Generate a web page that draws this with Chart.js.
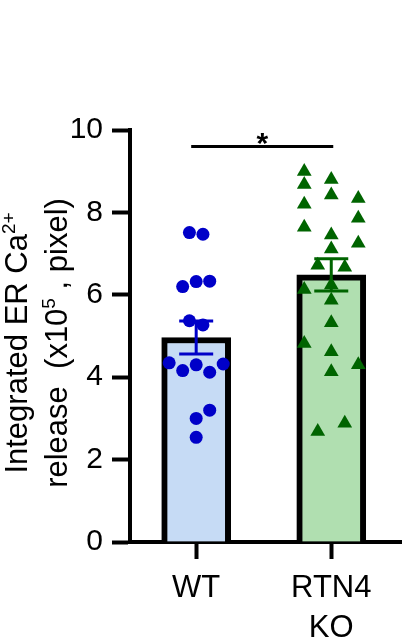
<!DOCTYPE html>
<html>
<head>
<meta charset="utf-8">
<script src="https://cdn.jsdelivr.net/npm/chart.js@4"></script>
<style>
  html, body { margin: 0; padding: 0; background: #fff; }
  #wrap { width: 410px; height: 641px; }
</style>
</head>
<body>
<div id="wrap"><canvas id="chart"></canvas></div>
<script>
// groups on the x axis (2nd label is two lines)
let groups = ['WT', ['RTN4', 'KO']];

// individual values, x10^5 pixel
let wtValues = [7.51, 7.47, 6.20, 6.32, 6.33, 5.37, 5.27, 4.35, 4.16, 4.30, 4.12, 4.32, 3.00, 3.20, 2.54];
let wtCols   = [-0.5, 0.5, -1, 0, 1, -0.5, 0.5, -2, -1, 0, 1, 2, 0, 1, 0];

let koValues = [8.99, 8.68, 8.80, 8.42, 8.20, 8.34, 7.86, 7.64, 7.45, 7.25, 7.11, 6.72, 6.67,
                6.13, 6.24, 5.87, 5.32, 4.82, 4.62, 4.13, 4.30, 2.68, 2.88];
let koCols   = [-2, -2, 0, 0, -2, 2, 2, -2, 0, 2, 0, -1, 1, -2, 0, 0, 0, -2, 0, 0, 2, -1, 1];

let yMin = 0, yMax = 10, yStep = 2;
let sigText = '*';
let sigY = 9.6;

let yTitle = [
  [['Integrated ER Ca', false], ['2+', true]],
  [['release  (x10', false], ['5', true], [' , pixel)', false]]
];

let font = '"Liberation Sans", Arial, sans-serif';
let blue = '#0000c8', green = '#006400';

mean = arr => arr.reduce((a, b) => a + b, 0) / arr.length;
sem = arr => {
  let m = mean(arr);
  let v = arr.reduce((a, b) => a + (b - m) * (b - m), 0) / (arr.length - 1);
  return Math.sqrt(v / arr.length);
}

let means = [mean(wtValues), mean(koValues)];
let sems = [sem(wtValues), sem(koValues)];
let errColors = [blue, green];

let jitter = 0.1;
let wtPoints = wtValues.map((v, i) => ({ x: 1 + wtCols[i] * jitter, y: v }));
let koPoints = koValues.map((v, i) => ({ x: 2 + koCols[i] * jitter, y: v }));

let extras = {
  id: 'extras',
  afterDatasetsDraw(chart) {
    let { ctx, scales: { x, y } } = chart;
    ctx.save();
    // error bars
    ctx.lineWidth = 3;
    means.forEach((m, i) => {
      let px = x.getPixelForValue(i + 1);
      let top = y.getPixelForValue(m + sems[i]);
      let bot = y.getPixelForValue(m - sems[i]);
      ctx.strokeStyle = errColors[i];
      ctx.beginPath();
      ctx.moveTo(px, top); ctx.lineTo(px, bot);
      ctx.moveTo(px - 17, top); ctx.lineTo(px + 17, top);
      ctx.moveTo(px - 17, bot); ctx.lineTo(px + 17, bot);
      ctx.stroke();
    });
    // significance bracket
    let sy = y.getPixelForValue(sigY);
    let x1 = x.getPixelForValue(1) - 5, x2 = x.getPixelForValue(2) + 2;
    ctx.strokeStyle = '#000';
    ctx.beginPath();
    ctx.moveTo(x1, sy); ctx.lineTo(x2, sy);
    ctx.stroke();
    ctx.fillStyle = '#000';
    ctx.font = 'bold 30px ' + font;
    ctx.textAlign = 'center';
    ctx.textBaseline = 'alphabetic';
    ctx.fillText(sigText, (x1 + x2) / 2, sy + 7);
    ctx.restore();
  },
  afterDraw(chart) {
    let { ctx } = chart;
    let baselines = [27, 67];
    let cy = 343;
    ctx.save();
    ctx.fillStyle = '#000';
    ctx.textBaseline = 'alphabetic';
    ctx.textAlign = 'left';
    yTitle.forEach((line, li) => {
      let widths = line.map(([t, sup]) => {
        ctx.font = (sup ? 19 : 31) + 'px ' + font;
        return ctx.measureText(t).width;
      });
      let total = widths.reduce((a, b) => a + b, 0);
      ctx.save();
      ctx.translate(baselines[li], cy);
      ctx.rotate(-Math.PI / 2);
      let pos = -total / 2;
      line.forEach(([t, sup], k) => {
        ctx.font = (sup ? 19 : 31) + 'px ' + font;
        ctx.fillText(t, pos, sup ? -12 : 0);
        pos += widths[k];
      });
      ctx.restore();
    });
    ctx.restore();
  }
};

let canvas = document.getElementById('chart').getContext('2d');

let chart = new Chart(canvas, {
  type: 'bar',
  data: {
    datasets: [
      {
        type: 'bar',
        data: means.map((m, i) => ({ x: i + 1, y: m })),
        backgroundColor: ['#c6dbf5', '#b0dfb0'],
        borderColor: '#000',
        borderWidth: 6,
        borderSkipped: 'start',
        barThickness: 69,
        order: 2
      },
      {
        type: 'scatter',
        data: wtPoints,
        pointStyle: 'circle',
        pointRadius: 6.5,
        backgroundColor: blue,
        borderWidth: 0,
        order: 1
      },
      {
        type: 'scatter',
        data: koPoints,
        pointStyle: 'triangle',
        pointRadius: 8.5,
        backgroundColor: green,
        borderWidth: 0,
        order: 1
      }
    ]
  },
  options: {
    responsive: true,
    maintainAspectRatio: false,
    animation: false,
    layout: { padding: { top: 130, right: 5, bottom: 0, left: 0 } },
    plugins: { legend: { display: false }, tooltip: { enabled: false } },
    scales: {
      x: {
        type: 'linear',
        min: 0.51,
        max: 2.52,
        offset: false,
        z: 1,
        afterFit: s => { s.height = 99; },
        afterBuildTicks: s => { s.ticks = [{ value: 1 }, { value: 2 }]; },
        ticks: {
          callback: v => groups[v - 1],
          color: '#000',
          padding: 10,
          maxRotation: 0,
          autoSkip: false,
          font: { family: font, size: 31, lineHeight: 1.27 }
        },
        grid: { display: true, offset: false, drawOnChartArea: false, drawTicks: true, tickLength: 17, tickWidth: 4, tickColor: '#000' },
        border: { display: true, color: '#000', width: 4 }
      },
      y: {
        min: yMin,
        max: yMax,
        z: 1,
        afterFit: s => { s.width = 130; },
        ticks: {
          stepSize: yStep,
          color: '#000',
          padding: 9,
          font: { family: font, size: 30 }
        },
        grid: { display: true, drawOnChartArea: false, drawTicks: true, tickLength: 18, tickWidth: 4, tickColor: '#000' },
        border: { display: true, color: '#000', width: 4 }
      }
    }
  },
  plugins: [extras]
});
</script>
</body>
</html>
